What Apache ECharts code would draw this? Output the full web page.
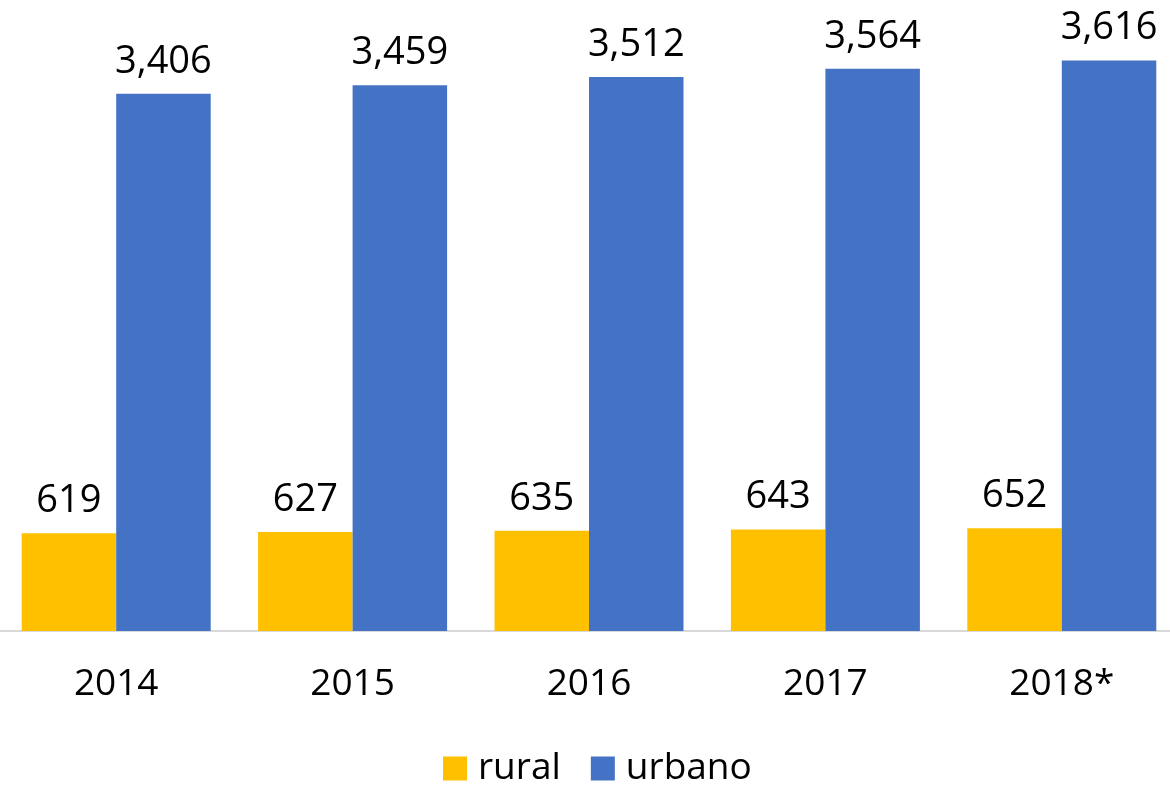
<!DOCTYPE html>
<html><head><meta charset="utf-8">
<script src="https://cdn.jsdelivr.net/npm/echarts@6/dist/echarts.min.js"></script>
<style>html,body{margin:0;padding:0;background:#fff}#c{width:1170px;height:786px}</style>
</head><body><div id="c"></div>
<script>
const categories = ['2014','2015','2016','2017','2018*'];
const rural = [619, 627, 635, 643, 652];
const urbano = [3406, 3459, 3512, 3564, 3616];
const seriesNames = ['rural','urbano'];

const FONT = '"Open Sans", sans-serif';
const chart = echarts.init(document.getElementById('c'));
const fmt = p => p.value.toLocaleString('en-US');
chart.setOption({
  animation: false,
  grid: { left: -2, width: 1182, top: 0, bottom: 155, containLabel: false, outerBoundsMode: 'none' },
  legend: {
    data: seriesNames, left: 438, top: 745,
    itemWidth: 24, itemHeight: 24, itemGap: 30, icon: 'rect',
    textStyle: { fontFamily: FONT, fontSize: 37, color: '#000', padding: [0,0,0,6] }
  },
  xAxis: {
    type: 'category', data: categories,
    axisLine: { lineStyle: { color: '#D9D9D9', width: 2 } },
    axisTick: { show: false },
    axisLabel: { fontFamily: FONT, fontSize: 37, color: '#000', margin: 35 }
  },
  yAxis: { type: 'value', min: 0, max: 4000, show: false, splitLine: { show: false } },
  series: [
    { name: 'rural', type: 'bar', data: rural, barWidth: 94.5, barGap: '0%',
      itemStyle: { color: '#FFC000' },
      label: { show: true, position: 'top', distance: 13, formatter: fmt,
               fontFamily: FONT, fontSize: 38, color: '#000' } },
    { name: 'urbano', type: 'bar', data: urbano, barWidth: 94.5, barGap: '0%',
      itemStyle: { color: '#4472C4' },
      label: { show: true, position: 'top', distance: 13, formatter: fmt,
               fontFamily: FONT, fontSize: 38, color: '#000' } }
  ]
});
</script></body></html>
